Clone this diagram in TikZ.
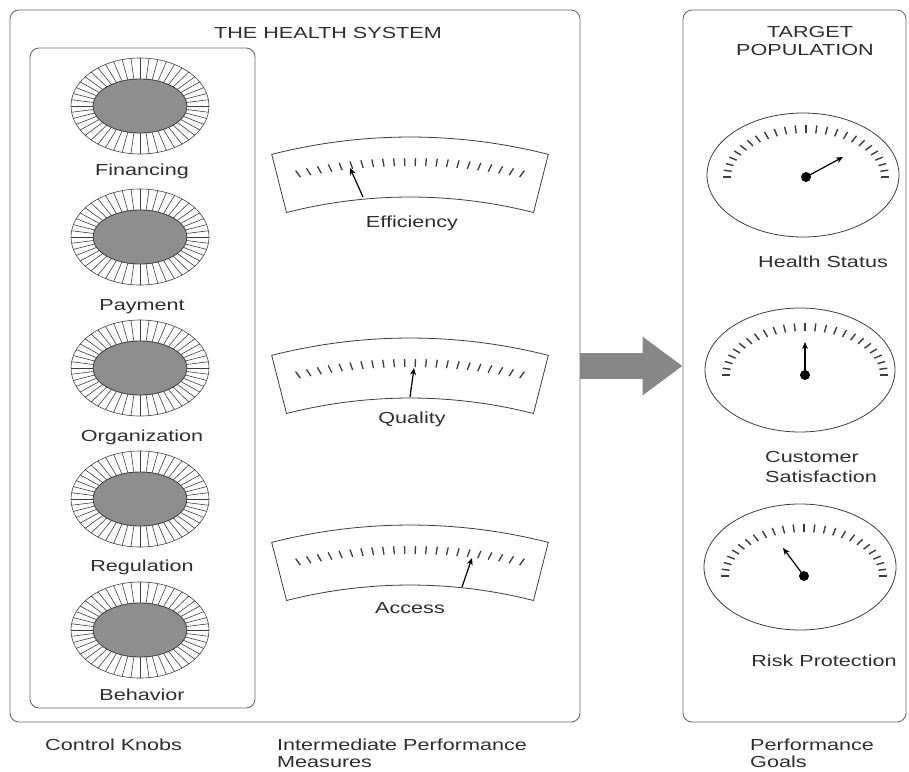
\documentclass[tikz,border=0pt]{standalone}
\usepackage{fontspec}
\setmainfont{Liberation Sans}[FakeStretch=1.35]
\usetikzlibrary{arrows.meta,calc}
\definecolor{ink}{HTML}{2E2E2E}
\definecolor{frame}{HTML}{6A6A6A}
\definecolor{linegray}{HTML}{3C3C3C}
\definecolor{knobgray}{HTML}{8E8E8E}
\definecolor{arrowgray}{HTML}{878787}

\tikzset{
  lbl/.style={font=\fontsize{16}{19}\selectfont, text=ink, inner sep=0pt},
  panel/.style={draw=frame, line width=0.9pt, rounded corners=9pt, rectangle, inner sep=0pt},
  knobline/.style={draw=linegray, line width=0.6pt},
  gaugeline/.style={draw=linegray, line width=0.8pt},
  gaugetick/.style={draw=linegray, line width=1.3pt},
  dialtick/.style={draw=linegray, line width=1.4pt},
  needle/.style={draw=black, line width=1.2pt, -{Stealth[length=7pt,width=6pt]}},
  % control knob: spoked ring around a grey disc
  knob/.pic={
    \draw[knobline, fill=white] (0,0) ellipse [x radius=69, y radius=48];
    \foreach \k in {0,...,47}{
      \pgfmathsetmacro\t{\k*7.5}
      \draw[knobline] ({47*cos(\t)},{27*sin(\t)}) -- ({69*cos(\t)},{48*sin(\t)});
    }
    \draw[knobline, line width=0.8pt, fill=knobgray] (0,0) ellipse [x radius=47, y radius=27];
  },
  % curved meter panel; origin is the centre of its arcs
  gauge/.pic={
    \draw[gaugeline, fill=white] (-104.3:560) arc[start angle=-104.3, end angle=-75.7, radius=560]
      -- (-75.7:500) arc[start angle=-75.7, end angle=-104.3, radius=500] -- cycle;
    \foreach \k in {0,...,21}{
      \pgfmathsetmacro\dx{-112+\k*224/21}
      \pgfmathsetmacro\my{-535*sqrt(1-(\dx/535)^2)}
      \pgfmathsetmacro\ang{atan2(\my+370,\dx)}
      \pgfmathsetmacro\dd{100*sqrt((\dx/100)^2+((\my+370)/100)^2)}
      \pgfmathsetmacro\ra{\dd-4}
      \pgfmathsetmacro\rb{\dd+4}
      \draw[gaugetick] ([shift={(0,-370)}]\ang:\ra) -- ([shift={(0,-370)}]\ang:\rb);
    }
  },
  % dial scale and hub; origin is the hub
  dial/.pic={
    \foreach \k in {0,...,24}{
      \pgfmathsetmacro\t{180-\k*7.5}
      \draw[dialtick] ({75*cos(\t)},{-44*sin(\t)}) -- ({83*cos(\t)},{-52*sin(\t)});
    }
    \fill[black] (0,0) circle [radius=5];
  }
}

\begin{document}
\begin{tikzpicture}[x=1pt,y=-1pt]
\useasboundingbox (0,0) rectangle (909,771);
\fill[white] (0,0) rectangle (909,771);

% frames
\node[panel, minimum width=570pt, minimum height=712pt] (hs) at (295,366) {};
\node[panel, minimum width=223pt, minimum height=712pt] (tp) at (794.5,366) {};
\node[panel, minimum width=225pt, minimum height=660pt] (ck) at (142.5,378) {};

\node[lbl, anchor=base] (hsTitle) at (328,38.5) {THE HEALTH SYSTEM};
\node[lbl, anchor=base] (tpTitleA) at (810,37.5) {TARGET};
\node[lbl, anchor=base] (tpTitleB) at (805,55.5) {POPULATION};

% control knobs
\pic at (140,106) {knob};
\pic at (140,237) {knob};
\pic at (140,368) {knob};
\pic at (140,499) {knob};
\pic at (140,630) {knob};
\node[lbl, anchor=base] (kFin) at (142,175) {Financing};
\node[lbl, anchor=base] (kPay) at (142,310) {Payment};
\node[lbl, anchor=base] (kOrg) at (142,441) {Organization};
\node[lbl, anchor=base] (kReg) at (142,571) {Regulation};
\node[lbl, anchor=base] (kBeh) at (142,700) {Behavior};

% intermediate meters
\begin{scope}[shift={(410,697)}]
  \pic at (0,0) {gauge};
  \draw[needle] (-47,-500) -- (-60,-529);
\end{scope}
\begin{scope}[shift={(410,898)}]
  \pic at (0,0) {gauge};
  \draw[needle] (0,-501) -- (4,-530);
\end{scope}
\begin{scope}[shift={(410,1085)}]
  \pic at (0,0) {gauge};
  \draw[needle] (52,-498) -- (62,-527);
\end{scope}
\node[lbl, anchor=base] (mEff) at (412,227) {Efficiency};
\node[lbl, anchor=base] (mQua) at (412,423) {Quality};
\node[lbl, anchor=base] (mAcc) at (410,613) {Access};

% goal dials
\draw[gaugeline] (803,175) ellipse [x radius=96, y radius=62];
\pic at (806,177) {dial};
\draw[needle] (806,177) -- (843,157);
\draw[gaugeline] (800,370) ellipse [x radius=95, y radius=62];
\pic at (805,375) {dial};
\draw[needle] (805,375) -- (805,342);
\draw[gaugeline] (800,567) ellipse [x radius=96, y radius=63];
\pic at (804,576) {dial};
\draw[needle] (804,576) -- (783,548);
\node[lbl, anchor=base] (gHea) at (823,267) {Health Status};
\node[lbl, anchor=base west] (gCusA) at (765,462) {Customer};
\node[lbl, anchor=base west] (gCusB) at (765,482) {Satisfaction};
\node[lbl, anchor=base] (gRis) at (824,666) {Risk Protection};

% flow from the health system to the population
\draw[arrowgray, line width=26pt, -{Triangle[length=40pt,width=56pt]}] (hs.east) -- (tp.west);

% captions
\node[lbl, anchor=base west] (cKnobs) at (45,750) {Control Knobs};
\node[lbl, anchor=base west] (cMeasA) at (277,750) {Intermediate Performance};
\node[lbl, anchor=base west] (cMeasB) at (277,767) {Measures};
\node[lbl, anchor=base west] (cGoalA) at (750,750) {Performance};
\node[lbl, anchor=base west] (cGoalB) at (750,767) {Goals};
\end{tikzpicture}
\end{document}
